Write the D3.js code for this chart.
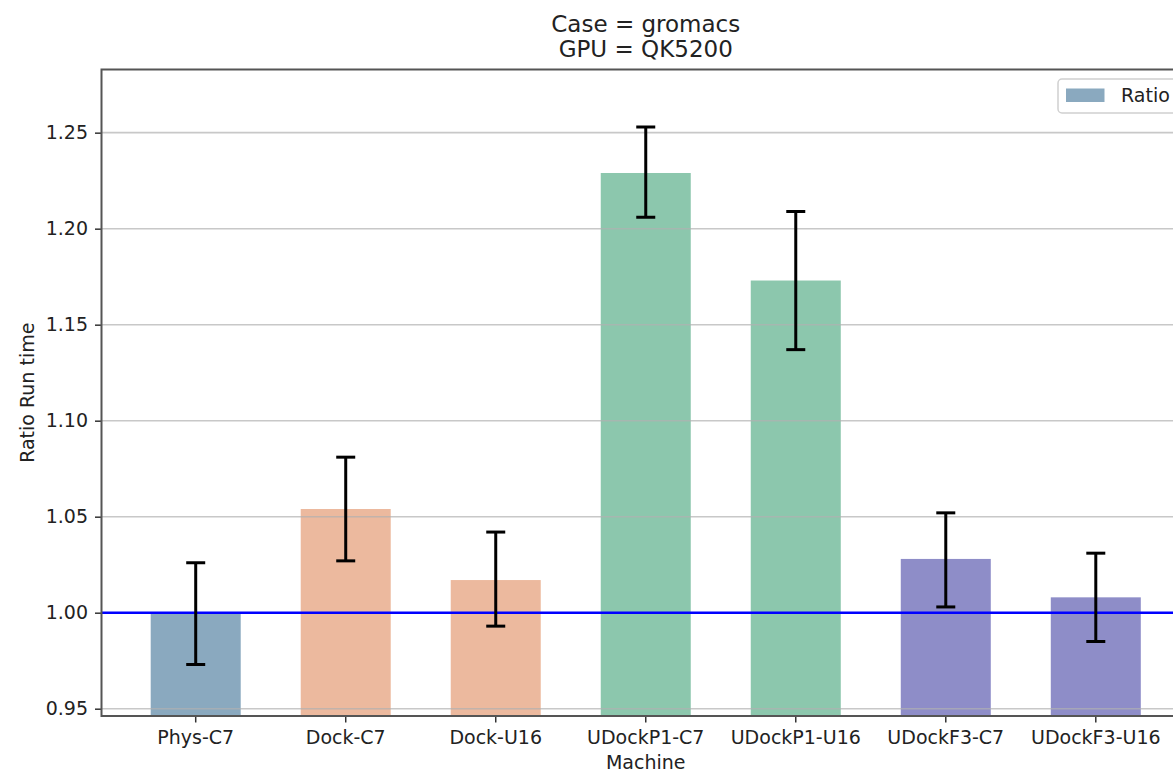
<!DOCTYPE html>
<html>
<head>
<meta charset="utf-8" />
<title>gromacs QK5200</title>
<style>
  body { margin: 0; background: #fff; }
  text { font-family: "DejaVu Sans", sans-serif; fill: #222; }
</style>
</head>
<body>
<svg id="chart" width="1173" height="772"></svg>

<script src="https://cdn.jsdelivr.net/npm/d3@7/dist/d3.min.js"></script>
<script>
// data
var machines = ['Phys-C7', 'Dock-C7', 'Dock-U16', 'UDockP1-C7', 'UDockP1-U16', 'UDockF3-C7', 'UDockF3-U16'];
var ratio    = [1.000, 1.054, 1.017, 1.229, 1.173, 1.028, 1.008];
var errLow   = [0.973, 1.027, 0.993, 1.206, 1.137, 1.003, 0.985];
var errHigh  = [1.026, 1.081, 1.042, 1.253, 1.209, 1.052, 1.031];
var barColors = ['#8aa9bf', '#ecb99e', '#ecb99e', '#8cc7ad', '#8cc7ad', '#8e8dc8', '#8e8dc8'];
var yTicks = [0.95, 1.00, 1.05, 1.10, 1.15, 1.20, 1.25];
var titleLines = ['Case = gromacs', 'GPU = QK5200'];
var legendLabel = 'Ratio';

(function () {
var svg = d3.select('#chart');
var mLeft = 101.5, mRight = 1190, mTop = 69.5, mBottom = 716;

var x = d3.scaleBand()
    .domain(machines)
    .range([mLeft, mRight])
    .paddingInner(0.4)
    .paddingOuter(0.328);

var y = d3.scaleLinear()
    .domain([0.9462, 1.2829])
    .range([mBottom, mTop]);

svg.append('clipPath').attr('id', 'plotclip')
  .append('rect')
    .attr('x', mLeft).attr('y', mTop)
    .attr('width', mRight - mLeft).attr('height', mBottom - mTop);

var plot = svg.append('g').attr('clip-path', 'url(#plotclip)');

// bars
plot.selectAll('rect.bar')
    .data(machines)
    .enter()
    .append('rect')
    .attr('class', 'bar')
    .attr('x', function (d) { return x(d); })
    .attr('width', x.bandwidth())
    .attr('y', function (d, i) { return y(ratio[i]); })
    .attr('height', function (d, i) { return mBottom + 10 - y(ratio[i]); })
    .attr('fill', function (d, i) { return barColors[i]; });

// grid
plot.selectAll('line.grid')
    .data(yTicks)
    .enter()
    .append('line')
    .attr('x1', mLeft).attr('x2', mRight)
    .attr('y1', function (d) { return y(d); })
    .attr('y2', function (d) { return y(d); })
    .attr('stroke', '#b0b0b0')
    .attr('stroke-opacity', 0.7)
    .attr('stroke-width', 1.6);

// reference line at 1
plot.append('line')
    .attr('x1', mLeft).attr('x2', mRight)
    .attr('y1', y(1)).attr('y2', y(1))
    .attr('stroke', '#0000ff')
    .attr('stroke-width', 2.5);

// error bars
var eb = plot.selectAll('g.err')
    .data(machines)
    .enter()
    .append('g')
    .attr('transform', function (d) { return 'translate(' + (x(d) + x.bandwidth() / 2) + ',0)'; })
    .attr('stroke', '#000')
    .attr('stroke-width', 3);

eb.append('line')
    .attr('y1', function (d, i) { return y(errLow[i]); })
    .attr('y2', function (d, i) { return y(errHigh[i]); });
eb.append('line')
    .attr('x1', -9.5).attr('x2', 9.5)
    .attr('y1', function (d, i) { return y(errLow[i]); })
    .attr('y2', function (d, i) { return y(errLow[i]); });
eb.append('line')
    .attr('x1', -9.5).attr('x2', 9.5)
    .attr('y1', function (d, i) { return y(errHigh[i]); })
    .attr('y2', function (d, i) { return y(errHigh[i]); });

// axes
var yAxis = svg.append('g')
    .attr('transform', 'translate(' + mLeft + ',0)')
    .call(d3.axisLeft(y).tickValues(yTicks).tickFormat(d3.format('.2f')).tickSize(6.5).tickPadding(7));
var xAxis = svg.append('g')
    .attr('transform', 'translate(0,' + mBottom + ')')
    .call(d3.axisBottom(x).tickSize(6.5).tickPadding(8));

[yAxis, xAxis].forEach(function (a) {
    a.select('.domain').remove();
    a.selectAll('.tick line').attr('stroke', '#333').attr('stroke-width', 1.5);
    a.selectAll('.tick text').attr('font-size', 19).attr('font-family', 'DejaVu Sans').attr('fill', '#222');
});

// frame
svg.append('rect')
    .attr('x', mLeft).attr('y', mTop)
    .attr('width', mRight - mLeft).attr('height', mBottom - mTop)
    .attr('fill', 'none')
    .attr('stroke', '#555')
    .attr('stroke-width', 2);

// labels
svg.append('text')
    .attr('x', (mLeft + mRight) / 2).attr('y', 769)
    .attr('text-anchor', 'middle')
    .attr('font-size', 19)
    .text('Machine');

svg.append('text')
    .attr('transform', 'translate(34,' + ((mTop + mBottom) / 2) + ') rotate(-90)')
    .attr('text-anchor', 'middle')
    .attr('font-size', 19)
    .text('Ratio Run time');

svg.selectAll('text.title')
    .data(titleLines)
    .enter()
    .append('text')
    .attr('class', 'title')
    .attr('x', (mLeft + mRight) / 2)
    .attr('y', function (d, i) { return 32 + i * 25; })
    .attr('text-anchor', 'middle')
    .attr('font-size', 23)
    .text(function (d) { return d; });

// legend
var lg = svg.append('g');
lg.append('rect')
    .attr('x', 1058).attr('y', 79)
    .attr('width', 122).attr('height', 34)
    .attr('rx', 4)
    .attr('fill', '#fff')
    .attr('fill-opacity', 0.8)
    .attr('stroke', '#d0d0d0')
    .attr('stroke-width', 1.5);
lg.append('rect')
    .attr('x', 1066).attr('y', 88.5)
    .attr('width', 38.5).attr('height', 13.5)
    .attr('fill', barColors[0]);
lg.append('text')
    .attr('x', 1121).attr('y', 102)
    .attr('font-size', 19)
    .text(legendLabel);
})();
</script>
</body>
</html>
